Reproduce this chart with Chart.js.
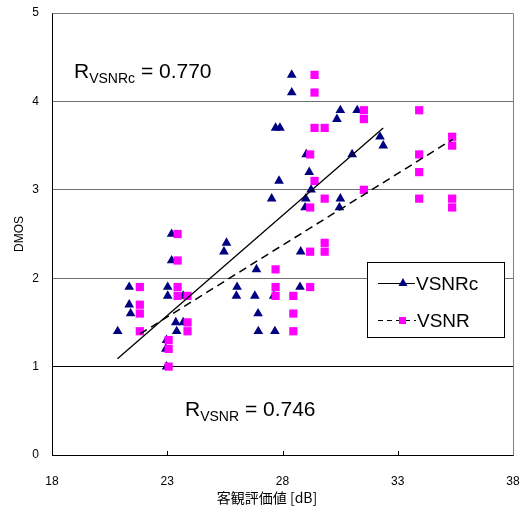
<!DOCTYPE html>
<html>
<head>
<meta charset="utf-8">
<script src="https://cdn.jsdelivr.net/npm/chart.js@4.4.1/dist/chart.umd.min.js"></script>
<style>
  html, body { margin: 0; padding: 0; background: #fff; }
  #wrap { width: 526px; height: 509px; }
</style>
</head>
<body>
<div id="wrap"><canvas id="chart" width="526" height="509"></canvas></div>
<script>
// VSNRc (triangles)
const vsnrcX = [20.85, 21.35, 21.35, 21.41, 23.02, 23.02, 23.19, 23.19, 22.97, 22.94, 22.97, 23.37, 23.41, 23.69, 23.69,
  25.57, 25.46, 26.03, 26.0, 26.8, 26.87, 26.94, 26.95, 27.62, 27.67, 27.53, 27.85, 27.7, 27.89, 28.4, 28.4,
  28.79, 28.76, 29.03, 29.16, 29.24, 29.01, 28.98, 30.36, 30.51, 30.51, 30.47, 31.02, 31.24, 32.23, 32.37];
const vsnrcY = [1.4, 1.9, 1.7, 1.6, 1.9, 1.8, 2.5, 2.2, 1.3, 1.2, 1.0, 1.5, 1.4, 1.5, 1.8,
  2.4, 2.3, 1.9, 1.8, 1.8, 2.1, 1.6, 1.4, 1.8, 1.4, 2.9, 3.1, 3.7, 3.7, 4.3, 4.1,
  2.3, 1.9, 3.4, 3.2, 3.0, 2.9, 2.8, 3.8, 3.9, 2.9, 2.8, 3.4, 3.9, 3.6, 3.5];

// VSNR (squares)
const vsnrX = [21.81, 21.81, 21.81, 21.81, 23.06, 23.06, 23.06, 23.45, 23.45, 23.45, 23.45, 23.88, 23.88, 23.88,
  27.7, 27.7, 27.7, 28.47, 28.47, 28.47, 29.2, 29.2, 29.2, 29.2, 29.39, 29.39, 29.39, 29.39,
  29.83, 29.83, 29.83, 29.83, 31.53, 31.53, 31.53, 33.93, 33.93, 33.93, 33.93, 35.36, 35.36, 35.36, 35.36];
const vsnrY = [1.9, 1.7, 1.6, 1.4, 1.3, 1.2, 1.0, 2.5, 2.2, 1.9, 1.8, 1.8, 1.5, 1.4,
  2.1, 1.9, 1.8, 1.8, 1.6, 1.4, 3.4, 2.8, 2.3, 1.9, 4.3, 4.1, 3.7, 3.1,
  3.7, 2.9, 2.4, 2.3, 3.9, 3.8, 3.0, 3.9, 3.4, 3.2, 2.9, 3.6, 3.5, 2.9, 2.8];

// linear fits (end points)
const fitVsnrcX = [20.84, 32.37];
const fitVsnrcY = [1.09, 3.70];
const fitVsnrX = [21.82, 35.38];
const fitVsnrY = [1.37, 3.57];

const xTicks = [18, 23, 28, 33, 38];
const yTicks = [0, 1, 2, 3, 4, 5];
const seriesNames = ["VSNRc", "VSNR"];
const corrLabels = [["VSNRc", "0.770"], ["VSNR", "0.746"]];
const xTitle = "客観評価値 [dB]";
const yTitle = "DMOS";

const NAVY = "#000080";
const MAGENTA = "#ff00ff";
const FONT = '"Liberation Sans", Arial, sans-serif';

const toPts = (xs, ys) => xs.map((x, i) => ({ x, y: ys[i] }));

// grey frame, inner x ticks, legend box, R labels, x title
const decorPlugin = {
  id: "decor",
  beforeDatasetsDraw(chart) {
    const { ctx, chartArea: a, scales } = chart;
    ctx.save();
    ctx.strokeStyle = "#808080";
    ctx.lineWidth = 1;
    ctx.beginPath();
    ctx.moveTo(Math.round(a.left) + 0.5, Math.round(a.top) + 0.5);
    ctx.lineTo(Math.round(a.right) + 0.5, Math.round(a.top) + 0.5);
    ctx.lineTo(Math.round(a.right) + 0.5, Math.round(a.bottom) + 0.5);
    ctx.stroke();
    ctx.strokeStyle = "#000";
    ctx.beginPath();
    xTicks.slice(1, -1).forEach(v => {
      const px = Math.round(scales.x.getPixelForValue(v)) + 0.5;
      ctx.moveTo(px, a.bottom);
      ctx.lineTo(px, a.bottom - 4);
    });
    ctx.stroke();
    ctx.restore();
  },
  afterDraw(chart) {
    const { ctx } = chart;
    ctx.save();
    // legend
    ctx.fillStyle = "#fff";
    ctx.fillRect(367, 262, 137, 75);
    ctx.strokeStyle = "#000";
    ctx.lineWidth = 1;
    ctx.strokeRect(367.5, 262.5, 137, 75);

    ctx.beginPath();
    ctx.moveTo(378, 283.5);
    ctx.lineTo(415, 283.5);
    ctx.stroke();
    ctx.fillStyle = NAVY;
    ctx.beginPath();
    ctx.moveTo(403, 278);
    ctx.lineTo(407.5, 286);
    ctx.lineTo(398.5, 286);
    ctx.closePath();
    ctx.fill();

    ctx.setLineDash([5, 4]);
    ctx.beginPath();
    ctx.moveTo(378, 320.5);
    ctx.lineTo(416, 320.5);
    ctx.stroke();
    ctx.setLineDash([]);
    ctx.fillStyle = MAGENTA;
    ctx.fillRect(399, 317, 7, 7);

    ctx.fillStyle = "#000";
    ctx.font = "19px " + FONT;
    ctx.textBaseline = "alphabetic";
    ctx.fillText(seriesNames[0], 416, 290);
    ctx.fillText(seriesNames[1], 417, 327);

    // correlation labels
    const drawR = (x, y, sub, val) => {
      ctx.font = "21px " + FONT;
      ctx.fillText("R", x, y);
      let cx = x + ctx.measureText("R").width;
      ctx.font = "14px " + FONT;
      ctx.fillText(sub, cx, y + 5);
      cx += ctx.measureText(sub).width;
      ctx.font = "21px " + FONT;
      ctx.fillText(" = " + val, cx, y);
    };
    drawR(74, 78, corrLabels[0][0], corrLabels[0][1]);
    drawR(185, 416, corrLabels[1][0], corrLabels[1][1]);

    // x axis title (sits a bit left of the plot centre in the original)
    ctx.font = '14px "Noto Sans CJK JP", sans-serif';
    ctx.textAlign = "center";
    ctx.textBaseline = "middle";
    ctx.fillText(xTitle, 267, 498);
    ctx.restore();
  }
};

function initChart() {
  const ctx = document.getElementById("chart").getContext("2d");
  new Chart(ctx, {
    type: "scatter",
    data: {
      datasets: [
        {
          label: "VSNR fit",
          data: toPts(fitVsnrX, fitVsnrY),
          showLine: true,
          borderColor: "#000",
          borderWidth: 1.5,
          borderDash: [8, 5],
          pointRadius: 0,
          order: 0
        },
        {
          label: "VSNRc fit",
          data: toPts(fitVsnrcX, fitVsnrcY),
          showLine: true,
          borderColor: "#000",
          borderWidth: 1.3,
          pointRadius: 0,
          order: 1
        },
        {
          label: seriesNames[1],
          data: toPts(vsnrX, vsnrY),
          pointStyle: "rect",
          pointRadius: 5.8,
          pointBackgroundColor: MAGENTA,
          pointBorderWidth: 0,
          order: 2
        },
        {
          label: seriesNames[0],
          data: toPts(vsnrcX, vsnrcY),
          pointStyle: "triangle",
          pointRadius: 5.6,
          pointBackgroundColor: NAVY,
          pointBorderWidth: 0,
          order: 3
        }
      ]
    },
    options: {
      responsive: false,
      animation: false,
      devicePixelRatio: 1,
      layout: { padding: { top: 13, right: 13, left: 0, bottom: 0 } },
      plugins: { legend: { display: false }, tooltip: { enabled: false } },
      scales: {
        x: {
          type: "linear",
          min: 18,
          max: 38,
          afterBuildTicks: (s) => { s.ticks = xTicks.map(v => ({ value: v })); },
          afterFit: (s) => { s.height = 54; s.paddingLeft = 0; s.paddingRight = 0; },
          grid: { display: false },
          border: { color: "#000", width: 1 },
          ticks: { color: "#000", padding: 11, font: { family: FONT, size: 12 } },
          title: { display: false }
        },
        y: {
          type: "linear",
          min: 0,
          max: 5,
          afterBuildTicks: (s) => { s.ticks = yTicks.map(v => ({ value: v })); },
          afterFit: (s) => { s.width = 52; s.paddingTop = 0; s.paddingBottom = 0; },
          grid: {
            drawTicks: false,
            lineWidth: 1,
            color: (c) => (c.tick && c.tick.value === 1 ? "#000" : "#707070")
          },
          border: { color: "#000", width: 1 },
          ticks: { color: "#000", padding: 13, font: { family: FONT, size: 12 } },
          title: {
            display: true,
            text: yTitle,
            color: "#000",
            padding: { top: 12, bottom: 0 },
            font: { family: FONT, size: 12 }
          }
        }
      }
    },
    plugins: [decorPlugin]
  });
}

document.addEventListener("DOMContentLoaded", initChart);
</script>
</body>
</html>
